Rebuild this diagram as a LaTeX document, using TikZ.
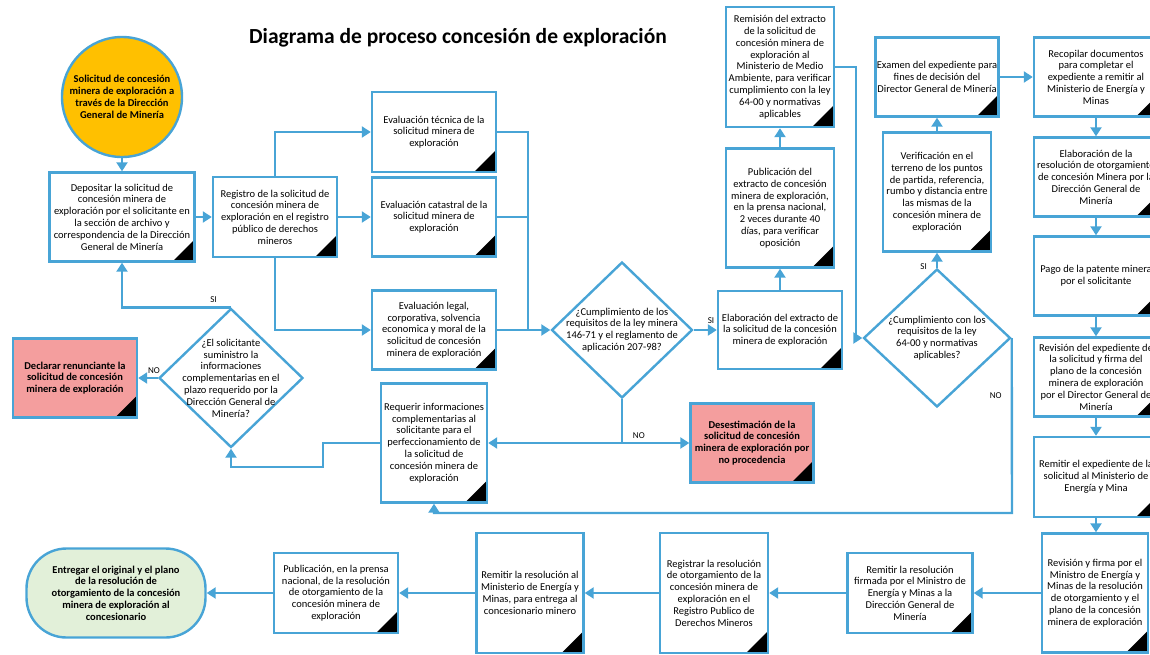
\documentclass[tikz,border=0pt]{standalone}
\usepackage{fontspec}
\setmainfont{Carlito}
\usepackage{xcolor}
\usepackage{tikz}
\usetikzlibrary{shapes.geometric,arrows.meta}

\definecolor{flowblue}{RGB}{72,164,214}
\definecolor{startyellow}{RGB}{255,192,0}
\definecolor{stoppink}{RGB}{244,158,158}
\definecolor{endgreen}{RGB}{226,240,217}

\tikzset{
    procbox/.style={draw=flowblue, line width=2.4pt, fill=white, align=center,
        inner xsep=1pt, font=\fontsize{10.5}{11.8}\selectfont,
        path picture={\fill[black] (path picture bounding box.south east) -- ++(-22pt,0pt) -- ++(22pt,22pt) -- cycle;}},
    stopbox/.style={procbox, fill=stoppink, font=\fontsize{10.5}{11.8}\selectfont\bfseries},
    decision/.style={diamond, draw=flowblue, line width=2.4pt, fill=white, inner sep=0pt},
    flowline/.style={draw=flowblue, line width=2.4pt, -{Triangle[width=11pt,length=9pt]}},
    plainline/.style={draw=flowblue, line width=2.4pt},
    answer/.style={font=\fontsize{9}{10}\selectfont, inner sep=1pt}
}

\begin{document}
\begin{tikzpicture}[x=1pt, y=-1pt]
        \useasboundingbox (0,0) rectangle (1150,654);
        \clip (0,0) rectangle (1150,654);

        \node[font=\fontsize{21.5}{25}\selectfont\bfseries] (title) at (458,38) {Diagrama de proceso concesión de exploración};

        % solicitud y evaluaciones
        \node[circle, draw=flowblue, line width=2.4pt, fill=startyellow, minimum size=120pt, inner sep=1pt, align=center,
            font=\fontsize{10.5}{11.8}\selectfont\bfseries] (solicitud) at (122,97)
            {Solicitud de concesión\\minera de exploración a\\través de la Dirección\\General de Minería};
        \node[procbox, minimum width=145pt, minimum height=89pt] (deposit) at (122,217)
            {Depositar la solicitud de\\concesión minera de\\exploración por el solicitante en\\la sección de archivo y\\correspondencia de la Dirección\\General de Minería};
        \node[procbox, minimum width=124pt, minimum height=80pt] (registro) at (275,217)
            {Registro de la solicitud de\\concesión minera de\\exploración en el registro\\público de derechos\\mineros};
        \node[procbox, minimum width=124pt, minimum height=80pt] (tecnica) at (434,132)
            {Evaluación técnica de la\\solicitud minera de\\exploración};
        \node[procbox, minimum width=124pt, minimum height=79pt] (catastral) at (434,217)
            {Evaluación catastral de la\\solicitud minera de\\exploración};
        \node[procbox, minimum width=124pt, minimum height=79pt] (legal) at (434,330)
            {Evaluación legal,\\corporativa, solvencia\\economica y moral de la\\solicitud de concesión\\minera de exploración};

        \node[decision, minimum width=141pt, minimum height=136pt,
            label={[align=center, font=\fontsize{10.5}{11.8}\selectfont]center:{¿Cumplimiento de los\\requisitos de la ley minera\\146-71 y el reglamento de\\aplicación 207-98?}}] (dia1) at (622,330) {};
        \node[procbox, minimum width=124pt, minimum height=78pt] (elab) at (780,330)
            {Elaboración del extracto de\\la solicitud de la concesión\\minera de exploración};
        \node[procbox, minimum width=106pt, minimum height=119pt] (requerir) at (434,443)
            {Requerir informaciones\\complementarias al\\solicitante para el\\perfeccionamiento de\\la solicitud de\\concesión minera de\\exploración};
        \node[stopbox, minimum width=123pt, minimum height=79pt] (desest) at (752,443)
            {Desestimación de la\\solicitud de concesión\\minera de exploración por\\no procedencia};

        \node[decision, minimum width=144pt, minimum height=139pt,
            label={[align=center, font=\fontsize{10.5}{11.8}\selectfont]center:{¿El solicitante\\suministro la\\informaciones\\complementarias en el\\plazo requerido por la\\Dirección General de\\Minería?}}] (dia2) at (231,378) {};
        \node[stopbox, minimum width=124pt, minimum height=79pt] (declarar) at (75,378)
            {Declarar renunciante la\\solicitud de concesión\\minera de exploración};

        % extracto y verificacion
        \node[procbox, minimum width=108pt, minimum height=119pt] (publicacion) at (780,208)
            {Publicación del\\extracto de concesión\\minera de exploración,\\en la prensa nacional,\\2 veces durante 40\\días, para verificar\\oposición};
        \node[procbox, minimum width=108pt, minimum height=120pt] (remision) at (780,67)
            {Remisión del extracto\\de la solicitud de\\concesión minera de\\exploración al\\Ministerio de Medio\\Ambiente, para verificar\\cumplimiento con la ley\\64-00 y normativas\\aplicables};
        \node[decision, minimum width=147pt, minimum height=138pt,
            label={[align=center, font=\fontsize{10.5}{11.8}\selectfont]center:{¿Cumplimiento con los\\requisitos de la ley\\64-00 y normativas\\aplicables?}}] (dia3) at (937,338) {};
        \node[procbox, minimum width=108pt, minimum height=119pt] (verificacion) at (937,192)
            {Verificación en el\\terreno de los puntos\\de partida, referencia,\\rumbo y distancia entre\\las mismas de la\\concesión minera de\\exploración};
        \node[procbox, minimum width=123pt, minimum height=79pt] (examen) at (937,77)
            {Examen del expediente para\\fines de decisión del\\Director General de Minería};

        % columna derecha
        \node[procbox, minimum width=124pt, minimum height=79pt] (recopilar) at (1096,77)
            {Recopilar documentos\\para completar el\\expediente a remitir al\\Ministerio de Energía y\\Minas};
        \node[procbox, minimum width=124pt, minimum height=79pt] (elabres) at (1096,177)
            {Elaboración de la\\resolución de otorgamiento\\de concesión Minera por la\\Dirección General de\\Minería};
        \node[procbox, minimum width=124pt, minimum height=79pt] (pago) at (1096,276)
            {Pago de la patente minera\\por el solicitante};
        \node[procbox, minimum width=124pt, minimum height=79pt] (revexp) at (1096,377)
            {Revisión del expediente de\\la solicitud y firma del\\plano de la concesión\\minera de exploración\\por el Director General de\\Minería};
        \node[procbox, minimum width=124pt, minimum height=80pt] (remexp) at (1096,477)
            {Remitir el expediente de la\\solicitud al Ministerio de\\Energía y Mina};

        % fila inferior
        \node[procbox, minimum width=106pt, minimum height=119pt] (revfirma) at (1095,593)
            {Revisión y firma por el\\Ministro de Energía y\\Minas de la resolución\\de otorgamiento y el\\plano de la concesión\\minera de exploración};
        \node[procbox, minimum width=125pt, minimum height=80pt] (remfirmada) at (910,593)
            {Remitir la resolución\\firmada por el Ministro de\\Energía y Minas a la\\Dirección General de\\Minería};
        \node[procbox, minimum width=108pt, minimum height=120pt] (registrar) at (714,593)
            {Registrar la resolución\\de otorgamiento de la\\concesión minera de\\exploración en el\\Registro Publico de\\Derechos Mineros};
        \node[procbox, minimum width=107pt, minimum height=120pt] (remres) at (530,593)
            {Remitir la resolución al\\Ministerio de Energía y\\Minas, para entrega al\\concesionario minero};
        \node[procbox, minimum width=124pt, minimum height=80pt] (pubres) at (336,593)
            {Publicación, en la prensa\\nacional, de la resolución\\de otorgamiento de la\\concesión minera de\\exploración};
        \node[draw=flowblue, line width=2.4pt, fill=endgreen, rounded corners=40pt, minimum width=179pt, minimum height=89pt,
            align=center, inner sep=1pt, font=\fontsize{10.5}{11.8}\selectfont\bfseries] (entregar) at (116,593)
            {Entregar el original y el plano\\de la resolución de\\otorgamiento de la concesión\\minera de exploración al\\concesionario};

        % conectores
        \coordinate (joinEval) at (528,330);
        \coordinate (splitNo) at (622,443);
        \coordinate (dropNo) at (1012,513);
        \coordinate (backStep) at (323,467);

        \draw[flowline] (solicitud) -- (deposit);
        \draw[flowline] (deposit) -- (registro);
        \draw[flowline] (registro.north) |- (tecnica.west);
        \draw[flowline] (registro) -- (catastral);
        \draw[flowline] (registro.south) |- (legal.west);
        \draw[plainline] (tecnica.east) -| (joinEval);
        \draw[plainline] (catastral.east) -| (joinEval);
        \draw[flowline] (legal) -- (dia1);
        \draw[flowline] (dia1) -- node[answer, pos=0.75, above=4pt] {SI} (elab);
        \draw[plainline] (dia1.south) -- (splitNo);
        \draw[flowline] (splitNo) -- (requerir.east);
        \draw[flowline] (splitNo) -- node[answer, pos=0.25, above=2pt] {NO} (desest.west);
        \draw[flowline] (requerir.west) -| (backStep) -| (dia2.south);
        \draw[flowline] (dia2.north) -| node[answer, pos=0.08, above=3pt] {SI} (deposit.south);
        \draw[flowline] (dia2) -- node[answer, pos=0.2, above=2pt] {NO} (declarar);

        \draw[flowline] (elab) -- (publicacion);
        \draw[flowline] (publicacion) -- (remision);
        \draw[flowline] (remision.east) -- ++(21,0) |- (dia3.west);
        \draw[flowline] (dia3) -- node[answer, pos=0.05, left=8pt] {SI} (verificacion);
        \draw[flowline] (verificacion) -- (examen);
        \draw[flowline] (dia3.east) -- node[answer, pos=0.33, left=8pt] {NO} (dropNo) -| (requerir.south);
        \draw[flowline] (examen) -- (recopilar);

        \draw[flowline] (recopilar) -- (elabres);
        \draw[flowline] (elabres) -- (pago);
        \draw[flowline] (pago) -- (revexp);
        \draw[flowline] (revexp) -- (remexp);
        \draw[flowline] (remexp.south) -- (remexp.south |- revfirma.north);
        \draw[flowline] (revfirma) -- (remfirmada);
        \draw[flowline] (remfirmada) -- (registrar);
        \draw[flowline] (registrar) -- (remres);
        \draw[flowline] (remres) -- (pubres);
        \draw[flowline] (pubres) -- (entregar);
    \end{tikzpicture}
\end{document}
